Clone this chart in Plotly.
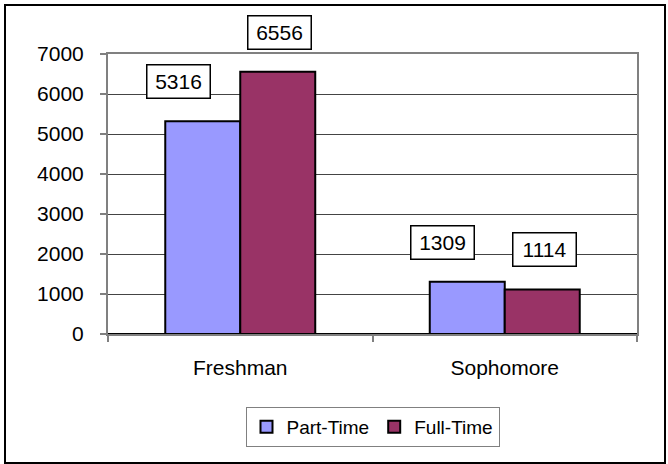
import plotly.graph_objects as go

categories = ["Freshman", "Sophomore"]
part_time = [5316, 1309]
full_time = [6556, 1114]
y_ticks = [0, 1000, 2000, 3000, 4000, 5000, 6000, 7000]

FONT = "Liberation Sans, Arial, sans-serif"

fig = go.Figure()
fig.add_trace(go.Bar(name="Part-Time", x=categories, y=part_time,
                     marker=dict(color="#9999FF", line=dict(color="black", width=2))))
fig.add_trace(go.Bar(name="Full-Time", x=categories, y=full_time,
                     marker=dict(color="#993366", line=dict(color="black", width=2))))

# data label boxes (hand-offset like the original)
label_offsets = {("Part-Time", 0): -24, ("Full-Time", 0): 2,
                 ("Part-Time", 1): -25, ("Full-Time", 1): 2}
bar_half = 37.5
for name, vals, side in [("Part-Time", part_time, -1), ("Full-Time", full_time, 1)]:
    for i, (c, v) in enumerate(zip(categories, vals)):
        fig.add_annotation(x=c, y=v, xref="x", yref="y", text=str(v), showarrow=False,
                           xshift=side * bar_half + label_offsets[(name, i)], yshift=39.5,
                           yanchor="middle", xanchor="center",
                           font=dict(family=FONT, size=21, color="black"),
                           bgcolor="white", bordercolor="black", borderwidth=1.5,
                           width=60, height=30, borderpad=1)

# outer chart border
fig.add_shape(type="rect", xref="paper", yref="paper",
              x0=(5 - 108) / 529, x1=(665 - 108) / 529,
              y0=-(463 - 334) / 280, y1=1 + 49 / 280,
              line=dict(color="black", width=2), fillcolor="rgba(0,0,0,0)", layer="below")

fig.update_layout(
    width=668, height=464,
    margin=dict(l=108, r=31, t=54, b=130),
    paper_bgcolor="white", plot_bgcolor="white",
    barmode="group", bargap=0.433, bargroupgap=0,
    font=dict(family=FONT, size=21, color="black"),
    showlegend=True,
    legend=dict(orientation="h", x=0.5, xanchor="center", y=-0.26, yanchor="top",
                bordercolor="#808080", borderwidth=1, bgcolor="white",
                font=dict(family=FONT, size=19, color="black"), itemwidth=30),
)
fig.update_xaxes(showline=True, linecolor="#808080", linewidth=2, mirror=True,
                 ticks="outside", tickson="boundaries", ticklen=6, tickcolor="#808080",
                 tickwidth=2, ticklabelstandoff=14, showgrid=False,
                 tickfont=dict(family=FONT, size=21, color="black"))
fig.update_yaxes(range=[0, 7000], tickvals=y_ticks, showline=True, linecolor="#808080",
                 linewidth=2, mirror=True, ticks="outside", ticklen=6, tickcolor="#808080",
                 tickwidth=2, ticklabelstandoff=12, showgrid=True, gridcolor="#444444",
                 gridwidth=1, zeroline=True, zerolinecolor="black", zerolinewidth=2,
                 tickfont=dict(family=FONT, size=21, color="black"))

fig.write_html("out.html", config={"displayModeBar": False},
               post_script="document.body.style.margin='0';document.body.style.overflow='hidden';")
